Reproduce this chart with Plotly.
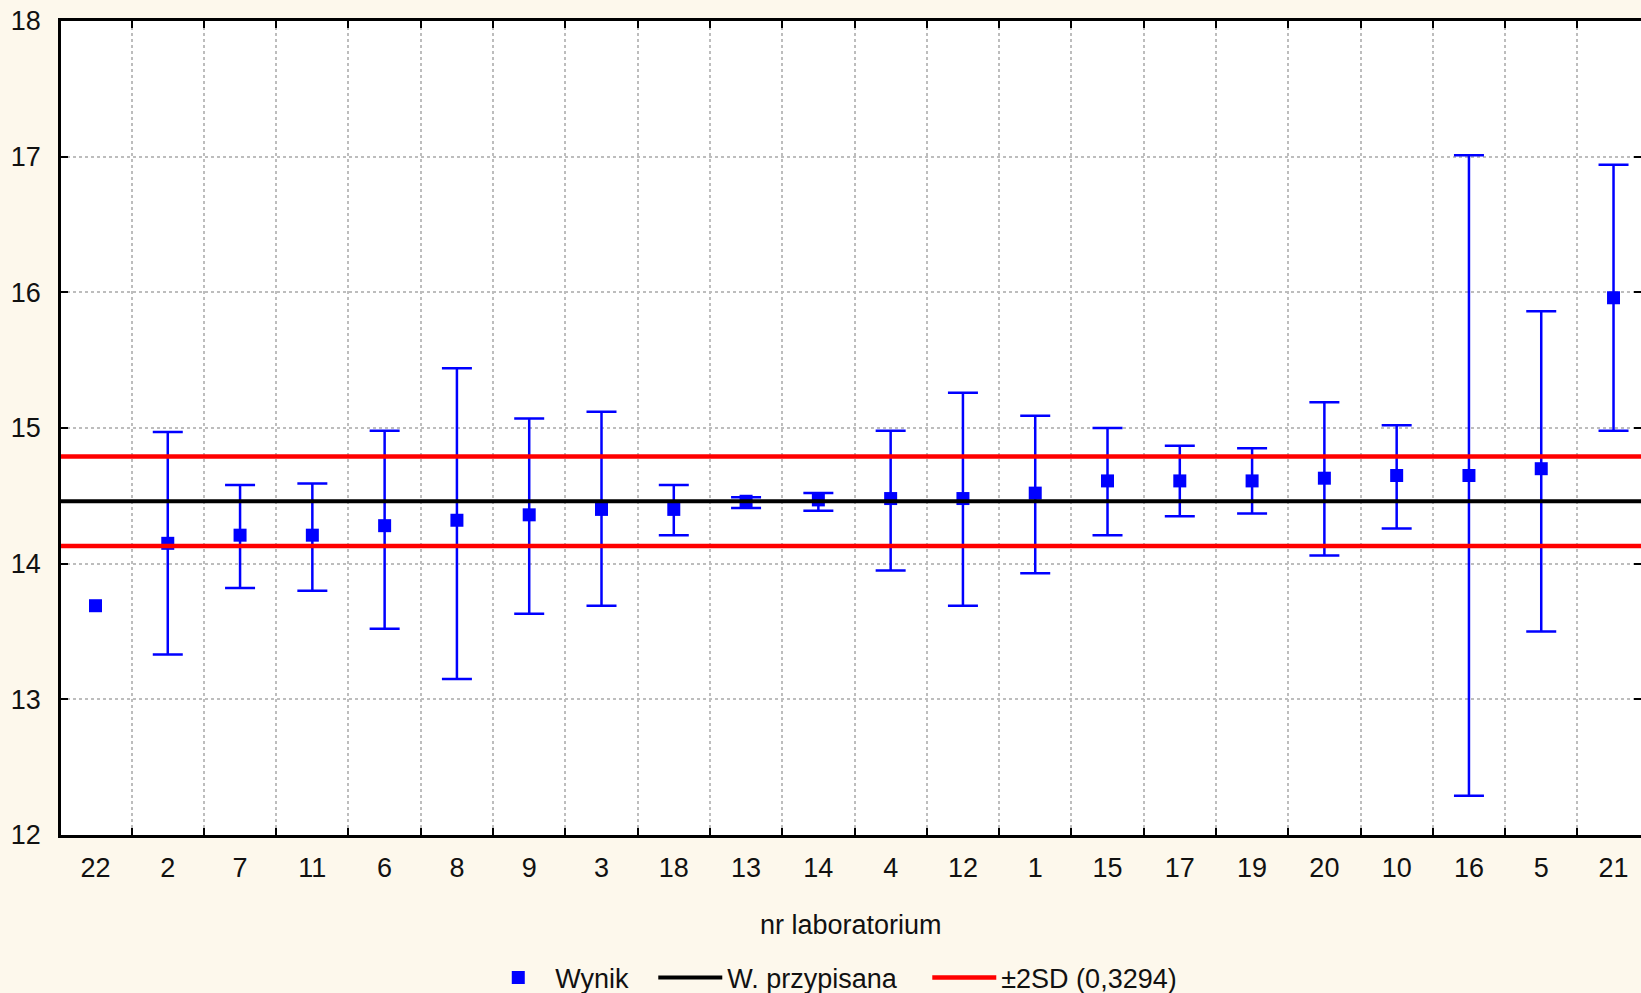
import plotly.graph_objects as go

# ---- data ----
labs = ["22", "2", "7", "11", "6", "8", "9", "3", "18", "13", "14",
        "4", "12", "1", "15", "17", "19", "20", "10", "16", "5", "21"]
wynik = [13.69, 14.15, 14.21, 14.21, 14.28, 14.32, 14.36, 14.40, 14.40, 14.46, 14.47,
         14.48, 14.48, 14.52, 14.61, 14.61, 14.61, 14.63, 14.65, 14.65, 14.70, 15.96]
upper = [None, 14.97, 14.58, 14.59, 14.98, 15.44, 15.07, 15.12, 14.58, 14.49, 14.52,
         14.98, 15.26, 15.09, 15.00, 14.87, 14.85, 15.19, 15.02, 17.01, 15.86, 16.94]
lower = [None, 13.33, 13.82, 13.80, 13.52, 13.15, 13.63, 13.69, 14.21, 14.41, 14.39,
         13.95, 13.69, 13.93, 14.21, 14.35, 14.37, 14.06, 14.26, 12.29, 13.50, 14.98]
assigned = 14.46
two_sd = 0.3294
y_ticks = [12, 13, 14, 15, 16, 17, 18]

# split points with / without an uncertainty interval
idx_err = [i for i, u in enumerate(upper) if u is not None]
idx_noerr = [i for i, u in enumerate(upper) if u is None]
err_plus = [upper[i] - wynik[i] for i in idx_err]
err_minus = [wynik[i] - lower[i] for i in idx_err]

FONT = "Liberation Sans, Arial, sans-serif"
BLUE = "#0000FF"
BG = "#FDF8EC"
TXT = "#111111"

marker_style = dict(symbol="square", size=13, color=BLUE, line=dict(width=0))

fig = go.Figure()

fig.add_trace(go.Scatter(
    x=[labs[i] for i in idx_err], y=[wynik[i] for i in idx_err],
    mode="markers", name="Wynik", legendgroup="w", legendwidth=93,
    marker=marker_style,
    error_y=dict(type="data", symmetric=False, array=err_plus, arrayminus=err_minus,
                 color=BLUE, thickness=2.5, width=15),
    xaxis="x", yaxis="y",
))
fig.add_trace(go.Scatter(
    x=[labs[i] for i in idx_noerr], y=[wynik[i] for i in idx_noerr],
    mode="markers", name="Wynik", legendgroup="w", showlegend=False,
    marker=marker_style, xaxis="x", yaxis="y",
))

fig.add_trace(go.Scatter(
    x=[0, 1], y=[assigned, assigned], mode="lines", name="W. przypisana",
    legendwidth=195,
    line=dict(color="#000000", width=4), xaxis="x2", yaxis="y",
))

fig.add_trace(go.Scatter(
    x=[0, 1, None, 0, 1],
    y=[assigned + two_sd, assigned + two_sd, None, assigned - two_sd, assigned - two_sd],
    mode="lines", name="±2SD (0,3294)", legendwidth=175,
    line=dict(color="#FF0000", width=4.5), xaxis="x2", yaxis="y",
))

fig.update_layout(
    width=1641, height=993,
    paper_bgcolor=BG, plot_bgcolor="#FFFFFF",
    margin=dict(l=61, r=0, t=21, b=158, autoexpand=False),
    font=dict(family=FONT, size=27, color=TXT),
    showlegend=True,
    legend=dict(orientation="h", x=0.266, xanchor="left", y=-0.1757, yanchor="middle",
                bgcolor="rgba(0,0,0,0)", font=dict(size=27, color=TXT),
                itemwidth=64, traceorder="normal"),
    xaxis=dict(
        type="category", categoryorder="array", categoryarray=labs,
        range=[-0.477, 21.38], tickson="boundaries",
        ticks="inside", ticklen=7, tickwidth=2, tickcolor="#000000",
        showline=True, linecolor="#000000", linewidth=2.5, mirror="ticks",
        showgrid=True, gridcolor="#BDBDBD", griddash="dot", gridwidth=1.5,
        tickfont=dict(size=27, color=TXT), ticklabelstandoff=7,
        zeroline=False, fixedrange=True,
    ),
    xaxis2=dict(overlaying="x", range=[0, 1], visible=False, fixedrange=True),
    yaxis=dict(
        range=[12, 18], tickvals=y_ticks,
        ticks="inside", ticklen=7, tickwidth=2, tickcolor="#000000",
        showline=True, linecolor="#000000", linewidth=2.5, mirror="ticks",
        showgrid=True, gridcolor="#BDBDBD", griddash="dot", gridwidth=1.5,
        tickfont=dict(size=27, color=TXT), ticklabelstandoff=12,
        zeroline=False, fixedrange=True,
    ),
    annotations=[dict(
        text="nr laboratorium", xref="paper", yref="paper", x=0.5, y=-0.1106,
        xanchor="center", yanchor="middle", showarrow=False,
        font=dict(size=27, color=TXT),
    )],
)

fig.write_html(
    "out.html",
    config={"displayModeBar": False},
    post_script="document.body.style.margin='0px';"
                "document.body.style.background='" + BG + "';",
)
